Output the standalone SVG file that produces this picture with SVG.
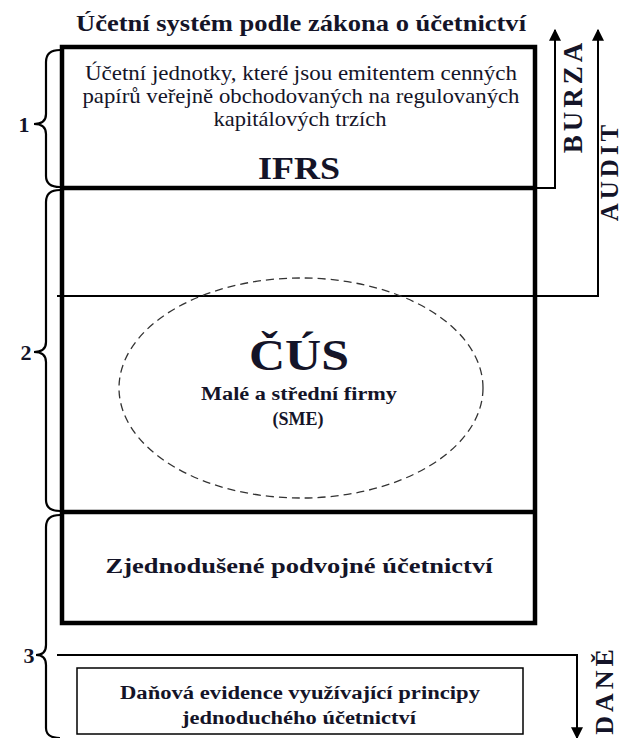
<svg xmlns="http://www.w3.org/2000/svg" width="625" height="738" viewBox="0 0 625 738">
<defs>
<style>
.t{font-family:"Liberation Serif","Times New Roman",serif;fill:#141428}
.b{font-weight:bold}
.thick{fill:none;stroke:#000;stroke-width:4.5}
.thin{fill:none;stroke:#000;stroke-width:2}
.brace{fill:none;stroke:#000;stroke-width:2.2}
</style>
<marker id="ah" viewBox="0 0 10 10" refX="9" refY="5" markerWidth="12" markerHeight="12" markerUnits="userSpaceOnUse" orient="auto">
<path d="M0 0 L10 5 L0 10 z" fill="#000"/>
</marker>
</defs>
<rect width="625" height="738" fill="#fff"/>
<text class="t b" x="301" y="31" font-size="24" text-anchor="middle" textLength="450" lengthAdjust="spacingAndGlyphs">Účetní systém podle zákona o účetnictví</text>
<g id="braces">
<path class="brace" d="M60 50 Q46 50 46 62 L46 114 Q46 124 34 124 Q46 124 46 134 L46 176 Q46 187 60 187"/>
<path class="brace" d="M60 190 Q46 190 46 202 L46 342 Q46 352 34 352 Q46 352 46 362 L46 500 Q46 511 60 511"/>
<path class="brace" d="M60 515 Q46 515 46 527 L46 645 Q46 655 36 655 Q46 655 46 665 L46 728 Q46 738 60 738"/>
<text class="t b" x="24" y="132" font-size="22" text-anchor="middle">1</text>
<text class="t b" x="26" y="360" font-size="22" text-anchor="middle">2</text>
<text class="t b" x="29" y="663" font-size="22" text-anchor="middle">3</text>
</g>
<g id="connectors">
<path class="thin" d="M535 188 L555 188 L555 30" marker-end="url(#ah)"/>
<path class="thin" d="M57 296 L598 296 L598 30" marker-end="url(#ah)"/>
<path class="thin" d="M57 655 L577 655 L577 738" marker-end="url(#ah)"/>
</g>
<g id="main-box">
<rect class="thick" x="62" y="47" width="473" height="576"/>
<line class="thick" x1="62" y1="188" x2="535" y2="188"/>
<line class="thick" x1="62" y1="512" x2="535" y2="512"/>
</g>
<g id="ifrs">
<text class="t" x="301" y="80" font-size="21" text-anchor="middle" textLength="432" lengthAdjust="spacingAndGlyphs">Účetní jednotky, které jsou emitentem cenných</text>
<text class="t" x="301" y="103" font-size="21" text-anchor="middle" textLength="437" lengthAdjust="spacingAndGlyphs">papírů veřejně obchodovaných na regulovaných</text>
<text class="t" x="300" y="126" font-size="21" text-anchor="middle" textLength="173" lengthAdjust="spacingAndGlyphs">kapitálových trzích</text>
<text class="t b" x="299" y="179" font-size="31" text-anchor="middle" textLength="82" lengthAdjust="spacingAndGlyphs">IFRS</text>
</g>
<g id="cus">
<ellipse cx="301" cy="388" rx="182" ry="110" fill="none" stroke="#333" stroke-width="1.3" stroke-dasharray="8 5"/>
<text class="t b" x="299" y="370" font-size="44" text-anchor="middle" textLength="100" lengthAdjust="spacingAndGlyphs">ČÚS</text>
<text class="t b" x="299" y="400" font-size="18" text-anchor="middle" textLength="196" lengthAdjust="spacingAndGlyphs">Malé a střední firmy</text>
<text class="t b" x="298" y="425" font-size="18" text-anchor="middle">(SME)</text>
</g>
<g id="zpu">
<text class="t b" x="299" y="573" font-size="21" text-anchor="middle" textLength="387" lengthAdjust="spacingAndGlyphs">Zjednodušené podvojné účetnictví</text>
</g>
<g id="dane">
<rect x="77" y="668" width="446" height="66" fill="none" stroke="#000" stroke-width="1.5"/>
<text class="t b" x="300" y="699" font-size="18" text-anchor="middle" textLength="360" lengthAdjust="spacingAndGlyphs">Daňová evidence využívající principy</text>
<text class="t b" x="299" y="724" font-size="18" text-anchor="middle" textLength="234" lengthAdjust="spacingAndGlyphs">jednoduchého účetnictví</text>
</g>
<g id="labels">
<text class="t b" font-size="27" letter-spacing="4" text-anchor="middle" transform="translate(582 96) rotate(-90)">BURZA</text>
<text class="t b" font-size="25" letter-spacing="4" text-anchor="middle" transform="translate(618 171) rotate(-90)">AUDIT</text>
<text class="t b" font-size="26" letter-spacing="4" text-anchor="middle" transform="translate(613 690) rotate(-90)">DANĚ</text>
</g>
</svg>
